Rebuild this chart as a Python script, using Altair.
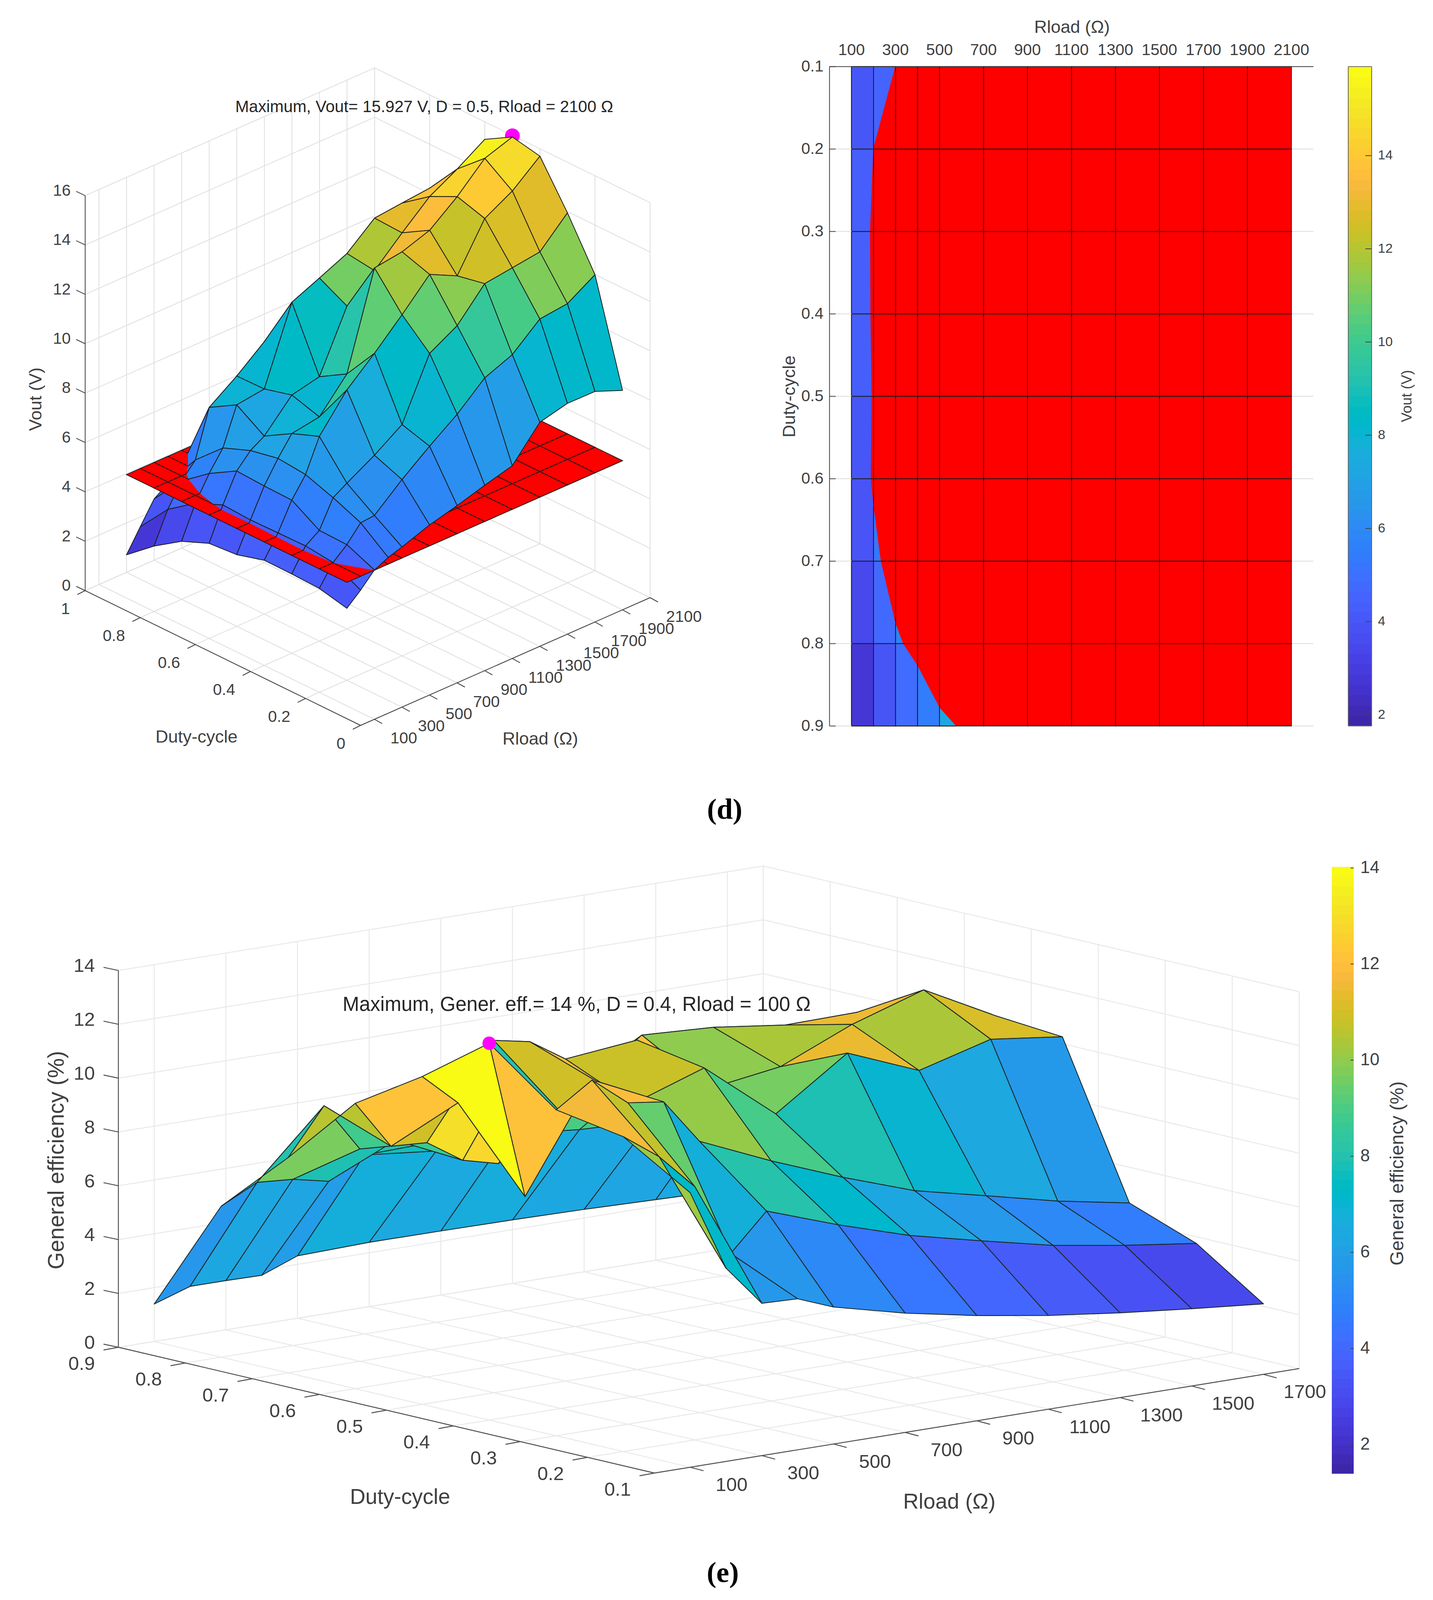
import altair as alt
import pandas as pd

# ---------- data ----------
RLOAD_D = [100, 200, 300, 400, 500, 700, 900, 1100, 1300, 1500, 1700, 1900, 2100]
DUTY = [0.1, 0.2, 0.3, 0.4, 0.5, 0.6, 0.7, 0.8, 0.9]
VOUT = [
    [3.95, 4.44, 5.01, 5.27, 5.45, 5.85, 6.14, 6.47, 6.77, 8.04, 8.31, 8.30, 7.85],
    [4.21, 5.01, 5.49, 6.13, 6.18, 7.14, 8.00, 8.80, 9.78, 10.23, 11.18, 11.31, 11.99],
    [4.25, 5.14, 5.52, 6.60, 6.94, 7.58, 8.33, 10.72, 11.35, 12.56, 12.71, 12.86, 13.95],
    [4.26, 5.12, 6.20, 6.99, 8.29, 9.68, 10.67, 11.74, 12.88, 12.33, 14.16, 14.78, 15.70],
    [3.94, 5.10, 6.23, 7.10, 7.86, 8.04, 9.29, 13.09, 13.25, 13.63, 14.50, 15.56, 15.93],
    [3.85, 5.16, 6.29, 6.87, 7.21, 8.38, 8.63, 11.00, 11.94, 12.98, 13.96, 14.58, 15.29],
    [3.39, 4.68, 5.64, 6.43, 7.93, 8.08, 11.10, 11.59, 12.09, 13.03, 13.15, 13.26, 12.60],
    [2.65, 3.89, 4.79, 5.40, 7.28, 8.06, 8.96, 10.00, 10.40, 10.50, 11.00, 11.00, 11.50],
    [1.75, 2.64, 3.52, 3.90, 4.34, 6.10, 6.80, 7.80, 8.90, 9.00, 9.30, 10.50, 10.70],
]
VOUT_MIN, VOUT_MAX = 1.75, 15.93
THRESHOLD = 5.0

RLOAD_E = [100, 200, 300, 400, 500, 700, 900, 1100, 1300, 1500, 1700]
EFF = [
    [10.2, 7.18, 5.66, 5.61, 5.09, 4.43, 3.91, 3.48, 3.15, 2.87, 2.62],
    [11.7, 10.74, 9.41, 6.71, 8.07, 7.13, 6.30, 5.67, 5.07, 4.64, 4.28],
    [12.11, 13.00, 11.94, 11.76, 10.08, 8.92, 7.88, 6.95, 6.33, 5.70, 5.20],
    [14.0, 8.09, 11.00, 11.94, 10.88, 11.79, 9.65, 11.48, 10.40, 11.13, 10.79],
    [12.18, 10.99, 13.09, 12.83, 11.97, 12.24, 10.00, 10.39, 11.53, 12.38, 10.99],
    [10.60, 8.79, 8.71, 7.84, 7.50, 9.50, 11.41, 11.27, 10.92, 10.96, 10.10],
    [8.00, 9.71, 7.89, 8.00, 7.70, 7.20, 9.00, 9.00, 9.00, 8.50, 8.00],
    [5.61, 6.28, 6.18, 5.89, 6.65, 6.37, 6.56, 6.30, 6.20, 6.36, 6.30],
    [1.39, 1.83, 1.83, 1.81, 2.32, 2.39, 2.38, 2.36, 2.32, 2.25, 2.18],
]
EFF_MIN, EFF_MAX = 1.39, 14.0

D_R_TICKS = [100, 300, 500, 700, 900, 1100, 1300, 1500, 1700, 1900, 2100]
D_D_TICKS = [0, 0.2, 0.4, 0.6, 0.8, 1]
D_Z_TICKS = [0, 2, 4, 6, 8, 10, 12, 14, 16]
E_R_TICKS = [100, 300, 500, 700, 900, 1100, 1300, 1500, 1700]
E_D_TICKS = DUTY
E_Z_TICKS = [0, 2, 4, 6, 8, 10, 12, 14]
CB_D_TICKS = [2, 4, 6, 8, 10, 12, 14]
CB_E_TICKS = [2, 4, 6, 8, 10, 12, 14]

PARULA = """0.2422 0.1504 0.6603;0.2504 0.1650 0.7076;0.2578 0.1818 0.7511;0.2647 0.1978 0.7952;0.2706 0.2147 0.8364;
0.2751 0.2342 0.8710;0.2783 0.2559 0.8991;0.2803 0.2782 0.9221;0.2813 0.3006 0.9414;0.2810 0.3228 0.9579;0.2795 0.3447 0.9717;
0.2760 0.3667 0.9829;0.2699 0.3892 0.9906;0.2602 0.4123 0.9952;0.2440 0.4358 0.9988;0.2206 0.4603 0.9973;0.1963 0.4847 0.9892;
0.1834 0.5074 0.9798;0.1786 0.5289 0.9682;0.1764 0.5499 0.9520;0.1687 0.5703 0.9359;0.1540 0.5902 0.9218;0.1460 0.6091 0.9079;
0.1380 0.6276 0.8973;0.1248 0.6459 0.8883;0.1113 0.6635 0.8763;0.0952 0.6798 0.8598;0.0689 0.6948 0.8394;0.0297 0.7082 0.8163;
0.0036 0.7203 0.7917;0.0067 0.7312 0.7660;0.0433 0.7411 0.7394;0.0964 0.7500 0.7120;0.1408 0.7584 0.6842;0.1717 0.7670 0.6554;
0.1938 0.7758 0.6251;0.2161 0.7843 0.5923;0.2470 0.7918 0.5567;0.2906 0.7973 0.5188;0.3406 0.8008 0.4789;0.3909 0.8029 0.4354;
0.4456 0.8024 0.3909;0.5044 0.7993 0.3480;0.5616 0.7942 0.3045;0.6174 0.7876 0.2612;0.6720 0.7793 0.2227;0.7242 0.7698 0.1910;
0.7738 0.7598 0.1646;0.8203 0.7498 0.1535;0.8634 0.7406 0.1596;0.9035 0.7330 0.1774;0.9393 0.7288 0.2100;0.9728 0.7298 0.2394;
0.9956 0.7434 0.2371;0.9970 0.7659 0.2199;0.9952 0.7893 0.2028;0.9892 0.8136 0.1885;0.9780 0.8382 0.1778;0.9676 0.8637 0.1639;
0.9610 0.8890 0.1537;0.9597 0.9135 0.1423;0.9628 0.9373 0.1265;0.9691 0.9606 0.1064;0.9769 0.9839 0.0805"""
COLORS = []
for row in PARULA.replace("\n", "").split(";"):
    r, g, b = [float(v) for v in row.split()]
    COLORS.append("#%02x%02x%02x" % (round(r * 255), round(g * 255), round(b * 255)))
NLEV = len(COLORS)
LEVELS = [i / (NLEV - 1) for i in range(NLEV)]

# ---------- view projections ----------
def pd3(R, D, z):
    return (923 + 741 * R / 2100 - 705 * D, 1857 - 327 * R / 2100 - 345 * D - 63.2 * z)

def pe3(R, D, z):
    return (1675 + 0.917 * R - 1715 * (D - 0.1), 3771 - 0.1486 * R - 402.5 * (D - 0.1) - 68.9 * z)

def ptop(R, D, z=0):
    return (2123.3 + 0.563 * R, 170.6 + (D - 0.1) * 2110)

W, H = 3652, 4108
SX = alt.Scale(domain=[8, 8 + W], nice=False, zero=False)
SY = alt.Scale(domain=[8 + H, 8], nice=False, zero=False)
SC = alt.Scale(domain=LEVELS, range=COLORS)
X = alt.X("x:Q", scale=SX, axis=None)
Y = alt.Y("y:Q", scale=SY, axis=None)

def split_cell(corners, level):
    """Cut one mesh cell at a horizontal level: returns (side, open path) pieces."""
    n = len(corners)
    side = [c[2] > level for c in corners]
    if level is None or all(side) or not any(side):
        return [(side[0], corners + [corners[0]])]
    start = next(i for i in range(n) if side[i] != side[i - 1])
    def cross(a, b):
        t = (level - a[2]) / (b[2] - a[2])
        return tuple(a[k] + t * (b[k] - a[k]) for k in range(3))
    out, cur = [], [cross(corners[start - 1], corners[start])]
    for k in range(n):
        i = (start + k) % n
        j = (i + 1) % n
        cur.append(corners[i])
        if side[j] != side[i]:
            c = cross(corners[i], corners[j])
            cur.append(c)
            out.append((side[i], cur))
            cur = [c]
    return out

def mesh(Rs, Ds, Z):
    """Cells far-to-near for the view; colour comes from the low-index corner."""
    cells = []
    for i in range(len(Ds) - 2, -1, -1):
        for j in range(len(Rs) - 2, -1, -1):
            corners = [(Rs[j], Ds[i], Z[i][j]), (Rs[j + 1], Ds[i], Z[i][j + 1]),
                       (Rs[j + 1], Ds[i + 1], Z[i + 1][j + 1]), (Rs[j], Ds[i + 1], Z[i + 1][j])]
            cells.append((corners, Z[i][j]))
    return cells

def polys_frame(polys, proj, lo=None, hi=None, prefix="p"):
    rows = []
    for n, (path, val) in enumerate(polys):
        for k, p in enumerate(path):
            x, y = proj(*p)
            rows.append({"x": x, "y": y, "k": k, "id": f"{prefix}{n:04d}",
                         "c": (val - lo) / (hi - lo) if lo is not None else 0})
    return pd.DataFrame(rows)

def surface_layer(df, stroke="#1c1c1c", sw=2.0):
    return alt.Chart(df).mark_line(stroke=stroke, strokeWidth=sw, strokeJoin="round", clip=False).encode(
        x=X, y=Y, order=alt.Order("k:Q"), detail=alt.Detail("id:N"),
        fill=alt.Fill("c:Q", scale=SC, legend=None))

def plane_layer(df, sw=2.0):
    return alt.Chart(df).mark_line(stroke="#1c1c1c", strokeWidth=sw, fill="#ff0000").encode(
        x=X, y=Y, order=alt.Order("k:Q"), detail=alt.Detail("id:N"))

def segs(items):
    return pd.DataFrame([{"x": a[0], "y": a[1], "x2": b[0], "y2": b[1]} for a, b in items])

def rules(items, color, sw):
    return alt.Chart(segs(items)).mark_rule(color=color, strokeWidth=sw).encode(
        x=X, y=Y, x2=alt.X2("x2:Q"), y2=alt.Y2("y2:Q"))

def texts(items, size, color="#404040", align="center", angle=0, weight="normal", font="Liberation Sans"):
    df = pd.DataFrame([{"x": x, "y": y, "t": t} for x, y, t in items])
    kw = {"angle": angle} if angle else {}
    return alt.Chart(df).mark_text(fontSize=size, color=color, align=align, baseline="middle",
                                   fontWeight=weight, font=font, **kw).encode(x=X, y=Y, text=alt.Text("t:N"))

def box_grid(proj, r0, r1, d0, d1, ztop, rt, dt, zt):
    g = []
    for d in dt:
        g.append((proj(r0, d, 0), proj(r1, d, 0)))            # floor
        g.append((proj(r1, d, 0), proj(r1, d, ztop)))         # right wall
    for r in rt:
        g.append((proj(r, d0, 0), proj(r, d1, 0)))            # floor
        g.append((proj(r, d1, 0), proj(r, d1, ztop)))         # left wall
    for z in zt:
        g.append((proj(r0, d1, z), proj(r1, d1, z)))
        g.append((proj(r1, d1, z), proj(r1, d0, z)))
    g.append((proj(r1, d1, 0), proj(r1, d1, ztop)))
    g.append((proj(r1, d0, 0), proj(r1, d0, ztop)))
    g.append((proj(r0, d0, 0), proj(r1, d0, 0)))
    g.append((proj(r0, d1, 0), proj(r0, d0, 0)))
    return g

def fmt(v):
    return f"{v:g}"

layers = []

# ---------- panel (d), 3-D view ----------
layers.append(rules(box_grid(pd3, 0, 2100, 0, 1, 16, D_R_TICKS, D_D_TICKS, D_Z_TICKS), "#dedede", 2))
ax = [(pd3(0, 1, 0), pd3(0, 1, 16)), (pd3(0, 1, 0), pd3(0, 0, 0)), (pd3(0, 0, 0), pd3(2100, 0, 0))]
for d in D_D_TICKS:
    p = pd3(0, d, 0)
    ax.append((p, (p[0] - 20, p[1] + 10)))
for r in D_R_TICKS:
    p = pd3(r, 0, 0)
    ax.append((p, (p[0] + 20, p[1] + 11)))
for z in D_Z_TICKS:
    p = pd3(0, 1, z)
    ax.append((p, (p[0] - 23, p[1] - 11)))
layers.append(rules(ax, "#404040", 2))

layers.append(alt.Chart(pd.DataFrame({"x": [pd3(2100, 0.5, 15.93)[0]], "y": [pd3(2100, 0.5, 15.93)[1] - 3]})).mark_circle(
    color="#ff00ff", opacity=1, size=1450).encode(x=X, y=Y))

below, above = [], []
for corners, val in mesh(RLOAD_D, DUTY, VOUT):
    for side, path in split_cell(corners, THRESHOLD):
        (above if side else below).append((path, val))
plane = [(c + [c[0]], 0) for c, _ in mesh(RLOAD_D, DUTY, [[THRESHOLD] * len(RLOAD_D) for _ in DUTY])]

layers.append(surface_layer(polys_frame(below, pd3, VOUT_MIN, VOUT_MAX, "b")))
layers.append(plane_layer(polys_frame(plane, pd3, prefix="r")))
layers.append(surface_layer(polys_frame(above, pd3, VOUT_MIN, VOUT_MAX, "a")))

layers.append(texts([(pd3(0, 1, z)[0] - 37, pd3(0, 1, z)[1] - 12, fmt(z)) for z in D_Z_TICKS], 41, align="right"))
layers.append(texts([(pd3(0, d, 0)[0] - 39, pd3(0, d, 0)[1] + 48, fmt(d)) for d in D_D_TICKS], 41, align="right"))
layers.append(texts([(pd3(r, 0, 0)[0] + 41, pd3(r, 0, 0)[1] + 50, fmt(r)) for r in D_R_TICKS], 41, align="left"))
layers.append(texts([(503, 1887, "Duty-cycle"), (1383, 1892, "Rload (Ω)")], 45))
layers.append(texts([(92, 1022, "Vout (V)")], 45, angle=270))
layers.append(texts([(1086, 274, "Maximum, Vout= 15.927 V, D = 0.5, Rload = 2100 Ω")], 42, color="#262626"))

# ---------- panel (d), view from under the threshold plane ----------
layers.append(rules([(ptop(2200, d), ptop(2100, d)) for d in DUTY], "#dcdcdc", 2))
layers.append(plane_layer(polys_frame(plane, ptop, prefix="t")))
layers.append(surface_layer(polys_frame(below, ptop, VOUT_MIN, VOUT_MAX, "u")))
ax2 = [(ptop(0, 0.1), ptop(0, 0.9)), (ptop(0, 0.1), ptop(2200, 0.1))]
ax2 += [(ptop(0, d), (ptop(0, d)[0] + 16, ptop(0, d)[1])) for d in DUTY]
layers.append(rules(ax2, "#404040", 2))
layers.append(rules([((ptop(0, d)[0] + 16, ptop(0, d)[1]), ptop(100, d)) for d in DUTY[1:]], "#dcdcdc", 2))
layers.append(texts([(ptop(r, 0.1)[0], 129, fmt(r)) for r in D_R_TICKS], 41))
layers.append(texts([(2108, ptop(0, d)[1], fmt(d)) for d in DUTY], 41, align="right"))
layers.append(texts([(2744, 70, "Rload (Ω)")], 45))
layers.append(texts([(2021, 1015, "Duty-cycle")], 45, angle=270))

# ---------- colour bars ----------
def colorbar(x0, x1, ybot, ytop, zmin, zmax, ticks, per_unit, ref_tick_y, tick_len, label_x, size):
    rows = []
    step = (ybot - ytop) / NLEV
    for i, lv in enumerate(LEVELS):
        rows.append({"x": x0, "x2": x1, "y": ybot - i * step, "y2": ybot - (i + 1) * step - 0.8, "c": lv})
    chart = alt.Chart(pd.DataFrame(rows)).mark_rect(stroke=None).encode(
        x=X, x2=alt.X2("x2:Q"), y=Y, y2=alt.Y2("y2:Q"), fill=alt.Fill("c:Q", scale=SC, legend=None))
    ys = [ref_tick_y - (t - ticks[0]) * per_unit for t in ticks]
    tk = rules([((x1 - tick_len, y), (x1, y)) for y in ys], "#404040", 2)
    tx = texts([(label_x, y, fmt(t)) for y, t in zip(ys, ticks)], size, align="left")
    return [chart, tk, tx]

layers += colorbar(3451, 3511, 1858.6, 170.6, VOUT_MIN, VOUT_MAX, CB_D_TICKS, 119.3, 1830, 16, 3527, 34)
layers.append(rules([((3451, 170.6), (3451, 1858.6)), ((3511, 170.6), (3511, 1858.6)),
                     ((3451, 170.6), (3511, 170.6)), ((3451, 1858.6), (3511, 1858.6))], "#666666", 2))
layers.append(texts([(3602, 1014, "Vout (V)")], 37, angle=270))

# ---------- panel (e) ----------
layers.append(rules(box_grid(pe3, 0, 1800, 0.1, 0.9, 14, E_R_TICKS, E_D_TICKS, E_Z_TICKS), "#e9e9e9", 2.5))
ax3 = [(pe3(0, 0.9, 0), pe3(0, 0.9, 14)), (pe3(0, 0.9, 0), pe3(0, 0.1, 0)), (pe3(0, 0.1, 0), pe3(1800, 0.1, 0))]
for d in E_D_TICKS:
    p = pe3(0, d, 0)
    ax3.append((p, (p[0] - 38, p[1] + 7)))
for r in E_R_TICKS:
    p = pe3(r, 0.1, 0)
    ax3.append((p, (p[0] + 34, p[1] + 9)))
for z in E_Z_TICKS:
    p = pe3(0, 0.9, z)
    ax3.append((p, (p[0] - 38, p[1] - 8)))
layers.append(rules(ax3, "#505050", 2.4))

e_polys = []
for corners, val in mesh(RLOAD_E, DUTY, EFF):
    e_polys.append((corners + [corners[0]], val))
layers.append(surface_layer(polys_frame(e_polys, pe3, EFF_MIN, EFF_MAX, "e"), stroke="#1e2a2a", sw=2.2))
layers.append(alt.Chart(pd.DataFrame({"x": [pe3(100, 0.4, 14)[0]], "y": [pe3(100, 0.4, 14)[1]]})).mark_circle(
    color="#ff00ff", opacity=1, size=1200).encode(x=X, y=Y))

layers.append(texts([(pe3(0, 0.9, z)[0] - 60, pe3(0, 0.9, z)[1] - 11, fmt(z)) for z in E_Z_TICKS], 49, align="right"))
layers.append(texts([(pe3(0, d, 0)[0] - 94, pe3(0, d, 0)[1] + 43, fmt(d)) for d in E_D_TICKS], 49))
layers.append(texts([(pe3(r, 0.1, 0)[0] + 106, pe3(r, 0.1, 0)[1] + 46, fmt(r)) for r in E_R_TICKS], 49))
layers.append(texts([(1024, 3833, "Duty-cycle"), (2430, 3845, "Rload (Ω)")], 55))
layers.append(texts([(146, 2970, "General efficiency (%)")], 57, angle=270))
layers.append(texts([(1476, 2573, "Maximum, Gener. eff.= 14 %, D = 0.4, Rload = 100 Ω")], 51, color="#262626"))

layers += colorbar(3409, 3465, 3772.8, 2220, EFF_MIN, EFF_MAX, CB_E_TICKS, 123, 3698, 8, 3482, 44)
layers.append(texts([(3578, 3004, "General efficiency (%)")], 48, angle=270))

# ---------- sub-figure labels ----------
layers.append(texts([(1855, 2074, "(d)"), (1850, 4028, "(e)")], 74, color="#000000", weight="bold", font="Liberation Serif"))

chart = alt.layer(*layers).properties(width=W, height=H, padding=0, autosize="none").configure_view(stroke=None)
chart.save("out.html", embed_options={"renderer": "svg", "actions": False})
